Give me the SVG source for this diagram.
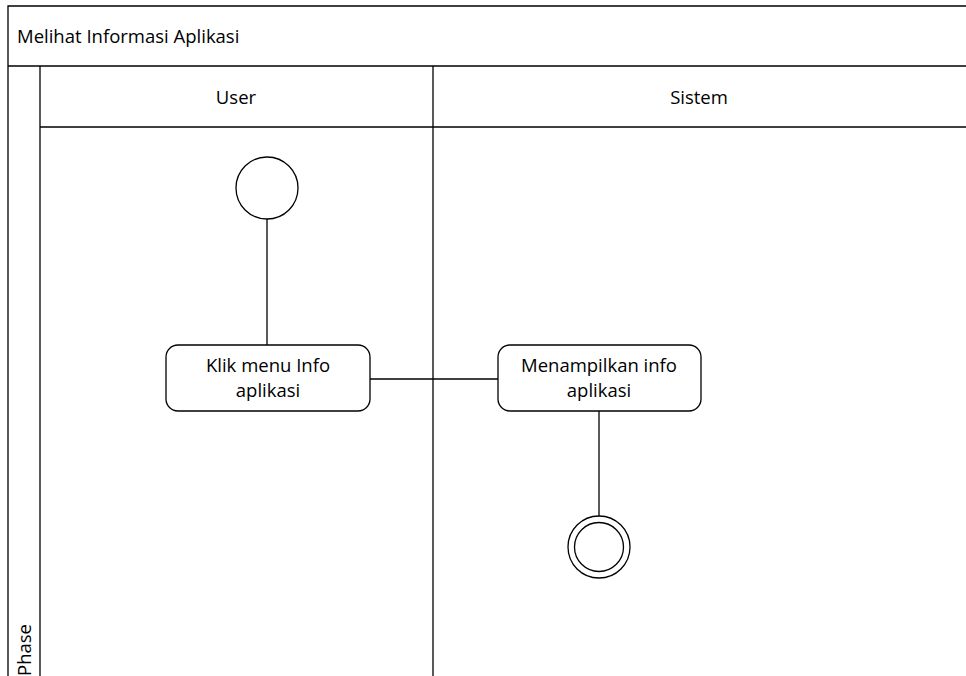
<svg xmlns="http://www.w3.org/2000/svg" width="966" height="676" viewBox="0 0 966 676">
  <style>
    .ln { stroke: #000; stroke-width: 1.3; fill: none; }
    .box { stroke: #000; stroke-width: 1.3; fill: #fff; }
    .t { font-family: "Open Sans", "Liberation Sans", sans-serif; font-size: 18.5px; fill: #000; }
  </style>
  <rect width="966" height="676" fill="#fff"/>

  <!-- pool frame -->
  <g id="pool">
    <path class="ln" d="M8,676 V6 H966"/>
    <line class="ln" x1="8" y1="66" x2="966" y2="66"/>
    <line class="ln" x1="40" y1="66" x2="40" y2="676"/>
    <line class="ln" x1="40" y1="127" x2="966" y2="127"/>
    <line class="ln" x1="433" y1="66" x2="433" y2="676"/>
    <text class="t" x="17" y="43">Melihat Informasi Aplikasi</text>
    <text class="t" x="236" y="104" text-anchor="middle">User</text>
    <text class="t" x="699" y="104" text-anchor="middle">Sistem</text>
    <text class="t" transform="translate(31,676) rotate(-90)" x="0" y="0">Phase</text>
  </g>

  <!-- connectors -->
  <g id="connectors">
    <line class="ln" x1="267" y1="219" x2="267" y2="345"/>
    <line class="ln" x1="370" y1="379" x2="498" y2="379"/>
    <line class="ln" x1="599" y1="411" x2="599" y2="516"/>
  </g>

  <g id="start">
    <circle class="box" cx="267" cy="188" r="31"/>
  </g>

  <g id="klik-menu">
    <rect class="box" x="166" y="345" width="204" height="66" rx="12"/>
    <text class="t" x="268" y="372" text-anchor="middle">Klik menu Info</text>
    <text class="t" x="268" y="397" text-anchor="middle">aplikasi</text>
  </g>

  <g id="tampil-info">
    <rect class="box" x="498" y="345" width="203" height="66" rx="12"/>
    <text class="t" x="599" y="372" text-anchor="middle">Menampilkan info</text>
    <text class="t" x="599" y="397" text-anchor="middle">aplikasi</text>
  </g>

  <g id="end">
    <circle class="box" cx="599" cy="547" r="31"/>
    <circle class="ln" cx="599" cy="547" r="24.5"/>
  </g>
</svg>
